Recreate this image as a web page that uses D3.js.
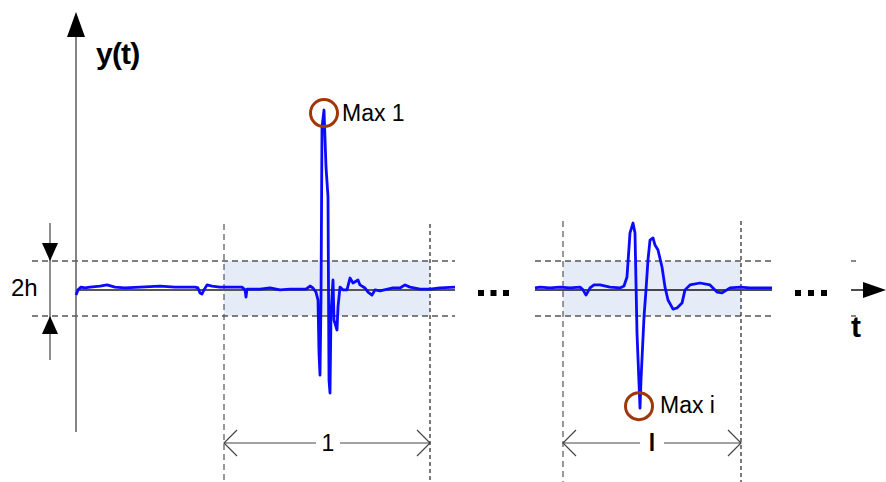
<!DOCTYPE html>
<html>
<head>
<meta charset="utf-8">
<script src="https://cdn.jsdelivr.net/npm/d3@7"></script>
<style>
  html, body { margin: 0; padding: 0; background: #fff; }
  svg { display: block; font-family: "Liberation Sans", Arial, sans-serif; }
</style>
</head>
<body>
<svg id="chart" width="886" height="482"></svg>
<script>
// Signal y(t), in units of the threshold h, sampled along t.
const segment1T = [0, 2, 5, 9, 14, 24, 31, 39, 49, 64, 84, 99, 119, 122, 124, 126, 128, 131, 136, 144,
  154, 166, 169, 170, 171, 184, 194, 204, 214, 224, 230, 234, 237, 240, 242, 243, 244, 245, 246, 248,
  250, 252, 253, 254, 255, 257, 258, 261, 262, 264, 267, 271, 274, 277, 282, 284, 289, 292, 296, 299,
  304, 317, 324, 329, 334, 344, 354, 364, 379];
const segment1Y = [-0.24, -0.05, 0.05, 0.02, 0.05, 0.09, 0.13, 0.05, 0.02, 0.05, 0.09, 0.05, 0.05, 0.02, -0.16, -0.2, -0.05, 0.13, 0.09, 0.05,
  0.05, 0.05, -0.05, -0.31, -0.02, -0.02, 0.02, -0.05, -0.02, -0.02, -0.02, 0.09, 0.02, -0.13, -0.42, -2.35, -3.15, -0.42, 5.87, 6.49,
  4.42, 3.33, -3.33, -3.8, -0.89, 0.31, -1.15, -1.51, -0.67, 0.05, -0.05, -0.05, 0.38, 0.2, 0.31, 0.13, 0.02, -0.13, -0.24, -0.05,
  -0.09, 0.02, 0.02, 0.13, 0.05, -0.02, -0.02, 0.02, 0.05];

const segment2T = [459, 464, 474, 484, 494, 504, 507, 510, 514, 518, 524, 534, 544, 548, 551, 554, 557, 559, 561, 564,
  565, 568, 570, 572, 574, 577, 579, 582, 586, 589, 592, 597, 601, 606, 609, 614, 624, 634, 641, 646,
  654, 664, 674, 684, 696];
const segment2Y = [0.02, 0.05, 0.02, 0.05, 0.02, 0.05, -0.05, -0.24, 0.02, 0.13, 0.13, 0.05, 0.02, 0.09, 0.42, 2.02, 2.38, 2.02, -1.62, -4.35,
  -3.33, -1.04, -0.05, 1.04, 1.76, 1.84, 1.58, 1.4, 0.78, 0.05, -0.42, -0.75, -0.71, -0.53, -0.05, 0.13, 0.2, 0.13, -0.13, -0.16,
  0.02, 0.05, 0.02, 0.02, 0.02];

// Observation windows [start, end] on t, with their length labels.
const windowStarts = [148, 487];
const windowEnds = [354, 665];
const windowLabels = ["1", "l"];
const peakLabels = ["Max 1", "Max i"];
const segmentStarts = [0, 459];
const segmentEnds = [379, 696];
const threshold = 1; // h

const svg = d3.select("#chart");
const x = d3.scaleLinear().domain([0, 810]).range([76, 886]);
const y = d3.scaleLinear().domain([-1, 1]).range([316, 261]);
const y0 = 290;

const gray = "#555";
const blue = "#0a0aff";
const brown = "#a0360a";

// Shaded threshold bands inside each window
svg.selectAll("rect.band").data(windowStarts).join("rect")
  .attr("class", "band")
  .attr("x", (d) => x(d))
  .attr("width", (d, i) => x(windowEnds[i]) - x(d))
  .attr("y", y(threshold))
  .attr("height", y(-threshold) - y(threshold))
  .attr("fill", "#e6ecf7");

// Dashed threshold lines ±h
const hLines = [];
segmentStarts.forEach((s, i) => {
  [threshold, -threshold].forEach((v) => {
    hLines.push({ x1: i === 0 ? 32 : x(s), x2: x(segmentEnds[i]), y: y(v) });
  });
});
[threshold, -threshold].forEach((v) => hLines.push({ x1: 851, x2: 856, y: y(v) }));
svg.selectAll("line.hth").data(hLines).join("line")
  .attr("x1", (d) => d.x1).attr("x2", (d) => d.x2)
  .attr("y1", (d) => d.y).attr("y2", (d) => d.y)
  .attr("stroke", gray).attr("stroke-width", 1.4)
  .attr("stroke-dasharray", "6,4");

// Vertical window boundaries
const vLines = [];
windowStarts.forEach((s, i) => {
  vLines.push({ x: x(s), top: i === 0 ? 224 : 221, color: gray, dash: "6,4" });
  vLines.push({ x: x(windowEnds[i]), top: i === 0 ? 224 : 221, color: "#222", dash: "4,3" });
});
svg.selectAll("line.win").data(vLines).join("line")
  .attr("x1", (d) => d.x).attr("x2", (d) => d.x)
  .attr("y1", (d) => d.top).attr("y2", 482)
  .attr("stroke", (d) => d.color).attr("stroke-width", 1.2)
  .attr("stroke-dasharray", (d) => d.dash);

// Time axis pieces
svg.append("line").attr("x1", x(0)).attr("x2", x(segmentEnds[0]))
  .attr("y1", y0).attr("y2", y0).attr("stroke", gray).attr("stroke-width", 2);
svg.append("line").attr("x1", x(segmentStarts[1])).attr("x2", x(segmentEnds[1]))
  .attr("y1", y0).attr("y2", y0).attr("stroke", "#111").attr("stroke-width", 1.5);
svg.append("line").attr("x1", 851).attr("x2", 866)
  .attr("y1", y0).attr("y2", y0).attr("stroke", "#111").attr("stroke-width", 1.5);
svg.append("path").attr("d", `M863,282 L886,${y0} L863,298 Z`).attr("fill", "#000");

// Ellipsis dots
const dotsX = [478, 490.5, 503, 795, 808, 821];
svg.selectAll("rect.dot").data(dotsX).join("rect")
  .attr("x", (d) => d).attr("y", 290).attr("width", 6).attr("height", 6)
  .attr("fill", "#000");

// y axis
svg.append("line").attr("x1", 76).attr("x2", 76).attr("y1", 30).attr("y2", 432)
  .attr("stroke", "#666").attr("stroke-width", 1.6);
svg.append("path").attr("d", "M76,12 L85,37 L67,37 Z").attr("fill", "#000");

// Signal traces
const line = d3.line().x((d) => x(d[0])).y((d) => y(d[1]));
const seg1 = segment1T.map((t, i) => [t, segment1Y[i]]);
const seg2 = segment2T.map((t, i) => [t, segment2Y[i]]);
svg.selectAll("path.sig").data([seg1, seg2]).join("path")
  .attr("class", "sig")
  .attr("d", line)
  .attr("fill", "none").attr("stroke", blue).attr("stroke-width", 2.8)
  .attr("stroke-linejoin", "round");

// Peak markers
const peak1 = seg1.reduce((a, b) => (b[1] > a[1] ? b : a));
const peak2 = seg2.reduce((a, b) => (b[1] < a[1] ? b : a));
const peaks = [
  { cx: x(peak1[0]), cy: y(peak1[1]) + 3, dx: 18, dy: 8, label: peakLabels[0] },
  { cx: x(peak2[0]) - 1, cy: y(peak2[1]) - 2, dx: 21, dy: 7, label: peakLabels[1] }
];
svg.selectAll("circle.peak").data(peaks).join("circle")
  .attr("cx", (d) => d.cx).attr("cy", (d) => d.cy).attr("r", 13.5)
  .attr("fill", "none").attr("stroke", brown).attr("stroke-width", 3);
svg.selectAll("text.peak").data(peaks).join("text")
  .attr("x", (d) => d.cx + d.dx).attr("y", (d) => d.cy + d.dy)
  .attr("font-size", 23).attr("fill", "#000")
  .text((d) => d.label);

// Window length dimension lines
const dimY = 443;
windowStarts.forEach((s, i) => {
  const a = x(s), b = x(windowEnds[i]);
  const mid = (a + b) / 2 + (i === 0 ? 1 : 0);
  const g = svg.append("g").attr("stroke", "#444").attr("stroke-width", 1.2).attr("fill", "none");
  g.append("line").attr("x1", a).attr("x2", mid - 12).attr("y1", dimY).attr("y2", dimY);
  g.append("line").attr("x1", mid + 12).attr("x2", b).attr("y1", dimY).attr("y2", dimY);
  g.append("path").attr("d", `M${a + 13},${dimY - 13} L${a},${dimY} L${a + 13},${dimY + 13}`);
  g.append("path").attr("d", `M${b - 13},${dimY - 13} L${b},${dimY} L${b - 13},${dimY + 13}`);
  svg.append("text").attr("x", mid).attr("y", dimY + 8)
    .attr("text-anchor", "middle").attr("font-size", 23)
    .attr("font-weight", i === 0 ? "normal" : "bold")
    .text(windowLabels[i]);
});

// 2h dimension
svg.append("line").attr("x1", 50).attr("x2", 50).attr("y1", 223).attr("y2", 360)
  .attr("stroke", "#444").attr("stroke-width", 1.2);
svg.append("path").attr("d", `M42,243 L58,243 L50,${y(threshold)} Z`).attr("fill", "#000");
svg.append("path").attr("d", `M42,334 L58,334 L50,${y(-threshold)} Z`).attr("fill", "#000");
svg.append("rect").attr("x", 10).attr("y", 272).attr("width", 32).attr("height", 28).attr("fill", "#fff");
svg.append("text").attr("x", 11).attr("y", 296).attr("font-size", 24).text("2h");

// Axis titles
svg.append("text").attr("x", 96).attr("y", 64)
  .attr("font-size", 30).attr("font-weight", "bold").attr("letter-spacing", -0.8)
  .text("y(t)");
svg.append("text").attr("x", 851).attr("y", 337)
  .attr("font-size", 30).attr("font-weight", "bold")
  .text("t");
</script>
</body>
</html>
